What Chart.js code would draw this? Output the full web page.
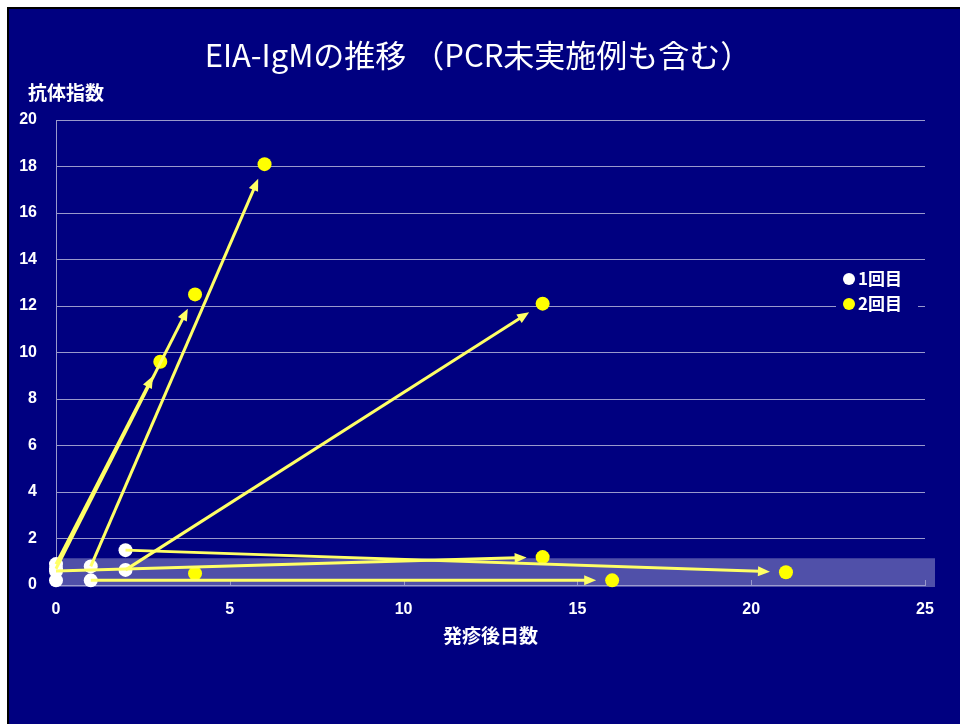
<!DOCTYPE html>
<html>
<head>
<meta charset="utf-8">
<script src="https://cdn.jsdelivr.net/npm/chart.js@4.4.0/dist/chart.umd.min.js"></script>
<style>
  body { margin: 0; background: #fff; }
  #frame {
    position: absolute; left: 7px; top: 7px; right: 0; bottom: 0;
    background: #000080; border-left: 2px solid #000; border-top: 2px solid #000;
  }
  #chart { position: absolute; left: 0; top: 0; }
</style>
</head>
<body>
<div id="frame"></div>
<canvas id="chart" width="960" height="724"></canvas>
<script>
// 1回目 / 2回目 の測定（発疹後日数, 抗体指数）
const day1 = [0, 0, 0, 1, 1, 2, 2, 0];
const igm1 = [0.9, 0.7, 0.6, 0.8, 0.2, 1.5, 0.65, 0.2];
const day2 = [3, 4, 14, 6, 16, 21, 14, 4];
const igm2 = [9.6, 12.5, 1.2, 18.1, 0.2, 0.55, 12.1, 0.5];
const arrowShown = [true, true, true, true, true, true, true, false];

const xTicks = [0, 5, 10, 15, 20, 25];
const yTicks = [0, 2, 4, 6, 8, 10, 12, 14, 16, 18, 20];

// 正常域の帯
const bandLow = 0;
const bandHigh = 1.15;

const titleText = 'EIA-IgMの推移 （PCR未実施例も含む）';
const labelFont = "'Liberation Sans Narrow', 'Arial Narrow', 'Liberation Sans', sans-serif";
const jpFont = "'Noto Sans CJK JP', sans-serif";
const gridColor = '#9999CC';

const toPoints = (xs, ys) => xs.map((x, i) => ({ x: x, y: ys[i] }));

// 帯・矢印・凡例などを描くプラグイン
const extras = {
    id: 'extras',
    beforeDatasetsDraw(chart) {
        const { ctx, chartArea, scales } = chart;
        const yTop = scales.y.getPixelForValue(bandHigh);
        const yBot = scales.y.getPixelForValue(bandLow);
        ctx.save();
        ctx.fillStyle = 'rgba(160,160,210,0.5)';
        ctx.fillRect(chartArea.left, yTop, chartArea.right - chartArea.left + 10, yBot - yTop + 2);
        // x軸の目盛り（内向き）
        ctx.strokeStyle = gridColor;
        ctx.lineWidth = 1;
        xTicks.forEach(v => {
            const px = Math.round(scales.x.getPixelForValue(v)) + 0.5;
            ctx.beginPath();
            ctx.moveTo(px, chartArea.bottom);
            ctx.lineTo(px, chartArea.bottom - 5);
            ctx.stroke();
        });
        ctx.restore();
    },
    afterDatasetsDraw(chart) {
        const { ctx, scales } = chart;
        ctx.save();
        ctx.strokeStyle = '#FFFF66';
        ctx.fillStyle = '#FFFF66';
        ctx.lineWidth = 3;
        day1.forEach((d, i) => {
            if (!arrowShown[i]) return;
            const x0 = scales.x.getPixelForValue(d);
            const y0 = scales.y.getPixelForValue(igm1[i]);
            const x1 = scales.x.getPixelForValue(day2[i]);
            const y1 = scales.y.getPixelForValue(igm2[i]);
            const len = Math.hypot(x1 - x0, y1 - y0);
            const ux = (x1 - x0) / len, uy = (y1 - y0) / len;
            const tx = x1 - ux * 16, ty = y1 - uy * 16;   // 矢印の先端
            const hl = 12, hw = 5;
            const bx = tx - ux * hl, by = ty - uy * hl;
            ctx.beginPath();
            ctx.moveTo(x0, y0);
            ctx.lineTo(bx + ux * 2, by + uy * 2);
            ctx.stroke();
            ctx.beginPath();
            ctx.moveTo(tx, ty);
            ctx.lineTo(bx - uy * hw, by + ux * hw);
            ctx.lineTo(bx + uy * hw, by - ux * hw);
            ctx.closePath();
            ctx.fill();
        });
        ctx.restore();
    },
    afterDraw(chart) {
        const { ctx, chartArea } = chart;
        ctx.save();
        ctx.fillStyle = '#fff';
        ctx.textBaseline = 'middle';
        // タイトル
        ctx.font = '31px ' + jpFont;
        ctx.textAlign = 'center';
        ctx.fillText(titleText, 478, 55);
        // 縦軸タイトル
        ctx.font = 'bold 19px ' + jpFont;
        ctx.textAlign = 'left';
        ctx.fillText('抗体指数', chartArea.left - 28, chartArea.top - 27);
        // 凡例
        const lx = chartArea.right - 89;
        const ly = chartArea.top + 146;
        ctx.fillStyle = '#000080';
        ctx.fillRect(lx, ly, 82, 52);
        chart.data.datasets.forEach((ds, i) => {
            const cy = ly + 13 + i * 25;
            ctx.beginPath();
            ctx.arc(lx + 13, cy, 6, 0, Math.PI * 2);
            ctx.fillStyle = ds.backgroundColor;
            ctx.fill();
            ctx.fillStyle = '#fff';
            ctx.font = 'bold 17px ' + jpFont;
            ctx.fillText(ds.label, lx + 22, cy);
        });
        ctx.restore();
    }
};

new Chart(document.getElementById('chart'), {
    type: 'scatter',
    data: {
        datasets: [
            {
                label: '1回目',
                data: toPoints(day1, igm1),
                backgroundColor: '#FFFFFF',
                borderWidth: 0,
                pointRadius: 7,
                clip: false
            },
            {
                label: '2回目',
                data: toPoints(day2, igm2),
                backgroundColor: '#FFFF00',
                borderWidth: 0,
                pointRadius: 7,
                clip: false
            }
        ]
    },
    options: {
        responsive: false,
        devicePixelRatio: 1,
        animation: false,
        layout: { padding: { top: 120, right: 35, bottom: 69, left: 0 } },
        plugins: {
            legend: { display: false },
            tooltip: { enabled: false },
            title: { display: false }
        },
        scales: {
            x: {
                type: 'linear',
                min: 0,
                max: 25,
                afterBuildTicks: s => { s.ticks = xTicks.map(v => ({ value: v })); },
                afterFit: s => { s.height = 70; },
                grid: { display: false },
                border: { display: true, color: gridColor },
                ticks: { color: '#fff', padding: 7, font: { family: labelFont, size: 16, weight: 'bold' } },
                title: {
                    display: true,
                    text: '発疹後日数',
                    color: '#fff',
                    font: { family: jpFont, size: 19, weight: 'bold' },
                    padding: { top: 10, bottom: 8 }
                }
            },
            y: {
                type: 'linear',
                min: 0,
                max: 20,
                afterBuildTicks: s => { s.ticks = yTicks.map(v => ({ value: v })); },
                afterFit: s => { s.width = 56; },
                grid: { color: gridColor, drawTicks: false },
                border: { display: true, color: gridColor },
                ticks: { color: '#fff', padding: 19, font: { family: labelFont, size: 16, weight: 'bold' } }
            }
        }
    },
    plugins: [extras]
});
</script>
</body>
</html>
